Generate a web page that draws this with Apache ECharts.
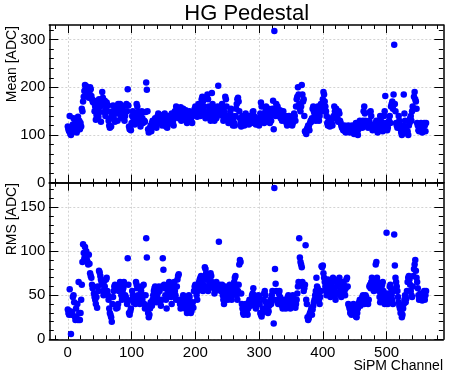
<!DOCTYPE html>
<html>
<head>
<meta charset="utf-8">
<script src="https://cdn.jsdelivr.net/npm/echarts@6/dist/echarts.min.js"></script>
<style>html,body{margin:0;padding:0;background:#fff}#c{width:449px;height:379px}</style>
</head>
<body>
<div id="c"></div>
<script>
const title = "HG Pedestal";
const xTitle = "SiPM Channel";
const meanTitle = "Mean [ADC]";
const rmsTitle = "RMS [ADC]";
const xTicks = [0, 100, 200, 300, 400, 500];
const meanTicks = [0, 100, 200, 300];
const rmsTicks = [0, 50, 100, 150];

// Mean pedestal per channel (channel = index)
const meanValues = [
118,112,108,140,102,100,115,110,122,135,108,112,128,118,105,110,138,125,130,112,
125,118,155,150,170,180,192,205,198,202,188,195,185,178,190,200,196,182,175,170,
168,172,150,160,132,142,155,165,138,175,148,160,128,170,190,178,165,148,172,140,
155,168,150,162,130,120,115,135,118,142,150,162,135,148,128,160,145,155,130,165,
162,148,165,140,155,135,160,145,150,130,140,162,165,150,196,162,118,112,115,110,
125,140,150,135,128,122,130,145,165,160,148,140,125,130,118,142,150,135,125,128,
130,128,148,210,195,150,112,105,110,115,120,108,125,130,118,122,128,135,120,115,
125,140,145,135,130,142,138,125,120,128,132,140,145,130,118,125,115,122,135,140,
130,125,138,145,132,128,120,135,150,145,160,155,148,140,135,152,145,158,130,138,
150,155,140,135,145,152,130,125,135,142,148,150,138,132,128,125,140,145,150,155,
160,152,145,138,150,165,155,148,140,160,175,180,170,160,150,145,135,140,178,185,
175,160,150,140,130,145,188,165,155,140,130,150,145,135,140,160,203,158,150,145,
160,155,165,140,130,150,145,180,175,160,140,135,125,130,140,150,155,140,130,120,
135,125,120,140,155,165,175,178,170,150,135,125,118,130,140,135,125,120,130,145,
140,135,125,130,122,135,140,128,125,130,148,150,140,130,125,122,130,135,128,125,
120,130,145,168,160,140,135,128,125,130,150,160,140,130,145,155,135,125,140,130,
145,155,172,112,318,150,140,165,155,160,150,140,145,152,135,140,130,145,150,140,
135,130,140,125,120,130,135,140,125,122,128,130,120,125,135,145,140,130,160,175,
180,200,185,165,155,150,160,205,185,170,175,140,108,105,102,112,115,120,118,110,
125,130,128,135,155,160,150,145,140,130,135,150,160,145,130,140,155,165,160,150,
175,190,185,170,160,150,140,125,120,130,135,118,122,130,125,120,135,140,160,150,
145,155,140,135,128,150,145,130,125,120,115,118,110,112,120,108,105,110,115,118,
120,112,105,108,110,115,120,112,108,102,110,118,125,120,105,100,112,125,130,128,
118,120,115,130,150,160,145,130,125,122,120,115,118,130,148,150,140,120,110,118,
122,120,115,125,130,110,105,110,118,130,140,125,128,115,108,112,140,150,182,125,
120,110,115,125,130,140,125,160,165,170,155,185,289,165,150,125,120,115,122,140,
130,118,112,105,100,108,120,185,145,130,115,110,105,108,100,120,125,135,140,130,
150,160,155,180,190,175,170,155,125,120,110,108,115,120,125,112,105,110,118,125,
120,108,125
];

// RMS per channel (channel = index)
const rmsValues = [
34,30,28,57,32,6,28,30,48,50,42,26,22,35,24,40,22,65,30,22,
30,45,62,88,108,98,92,105,95,100,90,88,85,96,86,75,72,70,62,58,
60,52,48,45,40,48,36,60,55,78,76,72,68,65,62,55,50,66,60,52,
68,70,55,50,45,35,30,28,25,20,40,48,55,60,62,58,35,38,36,40,
55,60,65,62,50,45,55,58,65,62,50,48,45,40,92,62,30,28,32,35,
45,55,50,42,45,48,40,65,62,58,50,45,48,40,42,55,60,45,50,62,
40,35,50,115,93,38,30,25,28,35,42,40,38,45,50,55,58,60,45,42,
48,52,56,60,55,42,38,45,60,92,79,62,58,50,45,35,48,55,62,65,
58,52,48,40,50,60,62,65,55,50,45,60,68,72,74,45,40,35,42,38,
45,50,48,40,35,42,38,30,40,45,50,48,35,30,32,38,42,36,55,60,
62,58,50,45,55,60,65,68,70,72,65,60,55,62,70,82,80,75,68,60,
55,58,65,70,75,72,65,62,60,58,52,55,60,65,62,58,60,111,62,56,
55,60,62,50,45,40,58,60,55,52,48,45,50,58,62,55,50,45,50,55,
60,65,70,72,58,50,45,55,62,85,90,88,52,40,35,30,28,32,38,40,
36,30,28,35,42,45,40,38,42,50,52,58,50,45,40,35,38,42,45,50,
48,40,30,28,26,30,35,45,52,55,50,42,40,35,30,32,38,42,45,40,
50,55,45,18,172,80,63,55,45,42,40,52,55,48,45,42,38,35,40,45,
42,38,35,40,45,48,50,44,40,35,38,42,45,50,48,42,38,36,40,45,
52,60,65,115,93,88,85,82,65,60,55,58,62,107,45,40,25,22,24,28,
30,32,35,28,34,38,42,45,50,55,70,60,58,52,45,40,48,55,83,82,
84,75,70,65,60,55,50,62,68,64,58,55,48,52,60,65,70,68,55,50,
45,52,60,65,62,68,70,55,50,48,52,60,65,62,55,50,58,68,70,60,
40,38,35,30,32,28,30,35,40,38,32,28,26,25,30,35,40,42,45,38,
40,45,48,50,42,40,45,50,48,44,42,40,45,60,62,58,65,70,68,60,
55,58,62,85,88,70,65,60,55,48,42,50,58,62,65,55,45,40,48,52,
121,45,40,48,52,60,62,58,50,45,40,55,119,84,70,65,60,55,48,42,
38,35,30,32,25,28,35,40,45,50,42,46,55,65,70,72,68,62,55,50,
48,60,72,80,85,90,78,70,65,58,50,45,48,52,50,45,44,48,52,55,
45,50,55
];

const X_MIN = -29, X_MAX = 589;
const MEAN_MAX = 330.6, RMS_MAX = 178;
const FONT = "Liberation Sans, Arial, Helvetica, sans-serif";

function minorList(lo, hi, step) {
  const out = [];
  for (let v = lo; v <= hi; v += step) out.push(v);
  return out;
}
const xMinor = minorList(-20, 580, 20);
const meanMinor = minorList(0, 320, 20);
const rmsMinor = minorList(0, 170, 10);

const gridLine = { show: true, lineStyle: { color: '#c8c8c8', type: [2, 2], width: 0.8 } };

function xAxes(gi, withLabels) {
  const base = { type: 'value', gridIndex: gi, min: X_MIN, max: X_MAX };
  return [
    Object.assign({}, base, { position: 'bottom',
      axisLine: { show: true, onZero: false, lineStyle: { color: '#000', width: 1.5 } },
      axisTick: { show: true, inside: true, length: 8, customValues: xTicks, lineStyle: { color: '#000', width: 1 } },
      axisLabel: { show: withLabels, customValues: xTicks, color: '#000', fontSize: 15, fontFamily: FONT, margin: 6 },
      splitLine: gridLine }),
    Object.assign({}, base, { position: 'bottom',
      axisLine: { show: false, onZero: false },
      axisTick: { show: true, inside: true, length: 4, customValues: xMinor, lineStyle: { color: '#000', width: 1 } },
      axisLabel: { show: false }, splitLine: { show: false } }),
    Object.assign({}, base, { position: 'top',
      axisLine: { show: true, onZero: false, lineStyle: { color: '#000', width: 1.5 } },
      axisTick: { show: true, inside: true, length: 8, customValues: xTicks, lineStyle: { color: '#000', width: 1 } },
      axisLabel: { show: false }, splitLine: { show: false } }),
    Object.assign({}, base, { position: 'top',
      axisLine: { show: false, onZero: false },
      axisTick: { show: true, inside: true, length: 4, customValues: xMinor, lineStyle: { color: '#000', width: 1 } },
      axisLabel: { show: false }, splitLine: { show: false } })
  ];
}

function yAxes(gi, max, majors, minors) {
  const base = { type: 'value', gridIndex: gi, min: 0, max: max };
  return [
    Object.assign({}, base, { position: 'left',
      axisLine: { show: true, onZero: false, lineStyle: { color: '#000', width: 1.5 } },
      axisTick: { show: true, inside: true, length: 9, customValues: majors, lineStyle: { color: '#000', width: 1 } },
      axisLabel: { show: true, customValues: majors, color: '#000', fontSize: 15, fontFamily: FONT, margin: 4 },
      splitLine: gridLine }),
    Object.assign({}, base, { position: 'left',
      axisLine: { show: false, onZero: false },
      axisTick: { show: true, inside: true, length: 4.5, customValues: minors, lineStyle: { color: '#000', width: 1 } },
      axisLabel: { show: false }, splitLine: { show: false } }),
    Object.assign({}, base, { position: 'right',
      axisLine: { show: true, onZero: false, lineStyle: { color: '#000', width: 1.5 } },
      axisTick: { show: true, inside: true, length: 9, customValues: majors, lineStyle: { color: '#000', width: 1 } },
      axisLabel: { show: false }, splitLine: { show: false } }),
    Object.assign({}, base, { position: 'right',
      axisLine: { show: false, onZero: false },
      axisTick: { show: true, inside: true, length: 4.5, customValues: minors, lineStyle: { color: '#000', width: 1 } },
      axisLabel: { show: false }, splitLine: { show: false } })
  ];
}

const meanData = meanValues.map((v, i) => [i, v]);
const rmsData = rmsValues.map((v, i) => [i, v]);

const chart = echarts.init(document.getElementById('c'), null, { renderer: 'canvas' });
chart.setOption({
  animation: false,
  backgroundColor: '#fff',
  grid: [
    { left: 49.3, right: 5.7, top: 25, height: 157.7 },
    { left: 49.3, right: 5.7, top: 182.7, height: 156.6 }
  ],
  xAxis: xAxes(0, false).concat(xAxes(1, true)),
  yAxis: yAxes(0, MEAN_MAX, meanTicks, meanMinor).concat(yAxes(1, RMS_MAX, rmsTicks, rmsMinor)),
  series: [
    { type: 'scatter', xAxisIndex: 0, yAxisIndex: 0, data: meanData, symbol: 'circle', symbolSize: 6.5,
      itemStyle: { color: '#0000ff', opacity: 1 }, clip: false },
    { type: 'scatter', xAxisIndex: 4, yAxisIndex: 4, data: rmsData, symbol: 'circle', symbolSize: 6.5,
      itemStyle: { color: '#0000ff', opacity: 1 }, clip: false }
  ],
  graphic: [
    { type: 'text', x: 246.7, y: 13.5,
      style: { text: title, fontSize: 22, fontFamily: FONT, fill: '#000', align: 'center', verticalAlign: 'middle' } },
    { type: 'text', x: 12, y: 26, rotation: Math.PI / 2,
      style: { text: meanTitle, fontSize: 14, fontFamily: FONT, fill: '#000', align: 'right', verticalAlign: 'middle' } },
    { type: 'text', x: 12, y: 183, rotation: Math.PI / 2,
      style: { text: rmsTitle, fontSize: 14, fontFamily: FONT, fill: '#000', align: 'right', verticalAlign: 'middle' } },
    { type: 'text', x: 443, y: 366,
      style: { text: xTitle, fontSize: 14, fontFamily: FONT, fill: '#000', align: 'right', verticalAlign: 'middle' } }
  ]
});
</script>
</body>
</html>
